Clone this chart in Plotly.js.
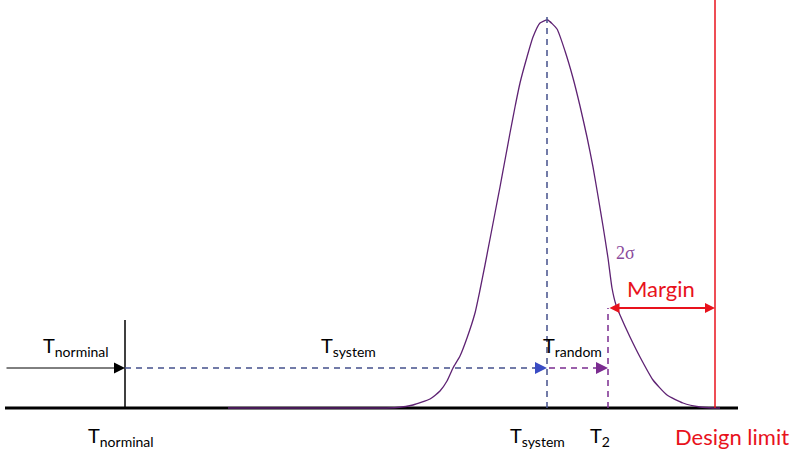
<!DOCTYPE html>
<html>
<head>
<meta charset="utf-8">
<script src="https://cdn.plot.ly/plotly-3.0.1.min.js"></script>
<style>html,body{margin:0;padding:0;background:#fff;}#chart{width:806px;height:466px;}</style>
</head>
<body>
<div id="chart"></div>
<script>
// Distribution curve (temperature vs. relative density)
const curveT = [228, 380, 397, 413, 430, 440, 447, 453, 460, 467, 475, 480, 485, 490, 495, 500, 505, 510, 515, 520, 527, 533, 540, 547.5,
                557, 565, 573, 580, 587, 593, 598, 603, 608, 612, 616, 620, 630, 640, 653, 667, 683, 700, 713, 720];
const curveDensity = [0, 0, 0.5, 3, 9, 17, 27, 40, 52, 70, 95, 118, 143, 169, 195, 221, 248, 275, 301, 325, 351, 371, 385, 388,
                379, 357, 330, 302, 271, 241, 212, 182, 150, 120, 103, 93, 71, 51, 28, 13, 5, 1, 0, 0];

// Key temperatures
const tNominal = 125;
const tSystem = 547;
const t2 = 608;
const designLimit = 715;

// Labels
const lblNominal = 'T<sub>norminal</sub>';
const lblSystem = 'T<sub>system</sub>';
const lblRandom = 'T<sub>random</sub>';
const lblT2 = 'T<sub>2</sub>';
const lblDesign = 'Design limit';
const lblMargin = 'Margin';
const lblSigma = '2σ';

const slate = '#44508c';
const purple = '#7b2c90';
const curveColor = '#5e2273';
const red = '#e8121c';
const fam = 'Lato, "Open Sans", sans-serif';
const txtFont = {family: fam, size: 20, color: '#000'};
const redFont = {family: fam, size: 22, color: red};

const arrowY = 40, marginY = 100;

const data = [{
  x: curveT, y: curveDensity, type: 'scatter', mode: 'lines',
  line: {color: curveColor, width: 1.3, shape: 'spline', smoothing: 0.5},
  hoverinfo: 'skip'
}];

const shapes = [
  // baseline axis
  {type: 'line', x0: 5, x1: 738, y0: 0, y1: 0, line: {color: '#000', width: 3}, layer: 'below'},
  // nominal vertical
  {type: 'line', x0: tNominal, x1: tNominal, y0: 0, y1: 88, line: {color: '#000', width: 1.5}},
  // system horizontal dashed
  {type: 'line', x0: tNominal, x1: tSystem - 12, y0: arrowY, y1: arrowY, line: {color: slate, width: 1.5, dash: '6px,5px'}},
  // random horizontal dashed
  {type: 'line', x0: tSystem + 2, x1: t2 - 10, y0: arrowY, y1: arrowY, line: {color: purple, width: 1.5, dash: '6px,5px'}},
  // system vertical dashed
  {type: 'line', x0: tSystem, x1: tSystem, y0: 0, y1: 396, line: {color: slate, width: 1.5, dash: '6px,5px'}},
  // T2 vertical dashed
  {type: 'line', x0: t2, x1: t2, y0: 0, y1: marginY, line: {color: purple, width: 1.5, dash: '6px,5px'}},
  // design limit
  {type: 'line', x0: designLimit, x1: designLimit, y0: 0, y1: 470, line: {color: red, width: 1.5}}
];

function arrow(x, ax, y, color, w, size, side) {
  return {x: x, y: y, ax: ax, ay: y, axref: 'x', ayref: 'y', xref: 'x', yref: 'y',
    showarrow: true, arrowhead: 2, startarrowhead: 2, arrowside: side || 'end', arrowcolor: color,
    arrowwidth: w, arrowsize: size, startarrowsize: size, standoff: 0, startstandoff: 0, text: ''};
}

function label(text, x, y, font) {
  return {x: x, y: y, xref: 'x', yref: 'y', text: text, showarrow: false,
    xanchor: 'center', yanchor: 'middle', font: font || txtFont};
}

const annotations = [
  arrow(tNominal, 5, arrowY, '#000', 1, 2.2),
  arrow(tSystem, tSystem - 14, arrowY, '#3a4cc4', 1.5, 1.6),
  arrow(t2, t2 - 12, arrowY, purple, 1.5, 1.6),
  arrow(designLimit, t2, marginY, red, 2, 1.0, 'end+start'),
  label(lblNominal, 76, 62),
  label(lblNominal, 121, -28),
  label(lblSystem, 348, 62),
  label(lblRandom, 572, 62),
  label(lblSystem, 537, -28),
  label(lblT2, 600, -28),
  label(lblDesign, 732, -28, redFont),
  label(lblMargin, 661, 120, redFont),
  label(lblSigma, 625, 155, {family: '"Liberation Serif", "DejaVu Serif", serif', size: 18, color: '#8a4a9c'})
];

const layout = {
  width: 806, height: 466,
  margin: {l: 0, r: 0, t: 0, b: 0},
  paper_bgcolor: '#fff', plot_bgcolor: '#fff',
  showlegend: false,
  xaxis: {range: [0, 806], visible: false, fixedrange: true},
  yaxis: {range: [-58, 408], visible: false, fixedrange: true},
  shapes: shapes,
  annotations: annotations
};

Plotly.newPlot('chart', data, layout, {displayModeBar: false, staticPlot: true});
</script>
</body>
</html>
